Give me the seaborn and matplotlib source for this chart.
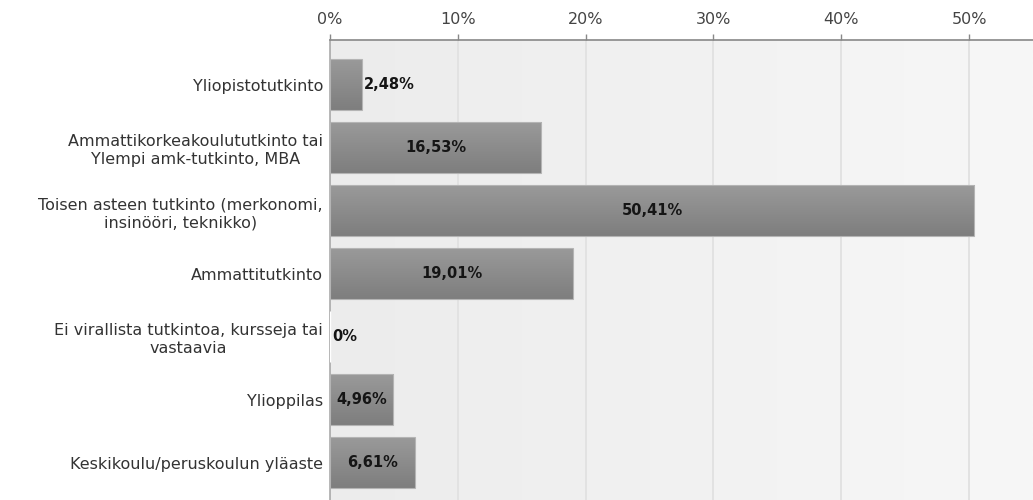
import numpy as np
import pandas as pd
import matplotlib
matplotlib.use("Agg")
import matplotlib.pyplot as plt
import seaborn as sns

categories = [
    "Yliopistotutkinto",
    "Ammattikorkeakoulututkinto tai\nYlempi amk-tutkinto, MBA",
    "Toisen asteen tutkinto (merkonomi,\ninsinööri, teknikko)",
    "Ammattitutkinto",
    "Ei virallista tutkintoa, kursseja tai\nvastaavia",
    "Ylioppilas",
    "Keskikoulu/peruskoulun yläaste",
]
values = [2.48, 16.53, 50.41, 19.01, 0.0, 4.96, 6.61]
value_labels = ["2,48%", "16,53%", "50,41%", "19,01%", "0%", "4,96%", "6,61%"]
x_ticks = [0, 10, 20, 30, 40, 50]

df = pd.DataFrame({"kategoria": categories, "osuus": values})

sns.set_theme(style="white")
plt.rcParams["font.family"] = ["DejaVu Sans"]

fig = plt.figure(figsize=(10.33, 5.0), dpi=100)
ax = fig.add_axes([0.3195, 0.0, 0.6805, 0.92])

sns.barplot(data=df, x="osuus", y="kategoria", orient="h", color="#8a8a8a",
            width=0.81, saturation=1, ax=ax, zorder=3)

XMAX = 55.0
ax.set_xlim(0, XMAX)
ax.set_ylim(6.59, -0.71)

# soft left-to-right shading of the plotting area
bg = np.linspace(0, 1, 256).reshape(1, -1)
bg_cmap = matplotlib.colors.LinearSegmentedColormap.from_list("bg", ["#ececec", "#f7f7f7"])
ax.imshow(bg, cmap=bg_cmap, aspect="auto", extent=(0, 1, 0, 1),
          transform=ax.transAxes, zorder=0, interpolation="bilinear")

# vertical gradient inside each bar, clipped to the bar shape
grad = np.linspace(0, 1, 64).reshape(-1, 1)
cmap = matplotlib.colors.LinearSegmentedColormap.from_list("bar", ["#9a9a9a", "#7e7e7e"])
for p in list(ax.patches):
    w = p.get_width()
    if w <= 0:
        continue
    x0, y0 = p.get_x(), p.get_y()
    h = p.get_height()
    im = ax.imshow(grad, cmap=cmap, aspect="auto", interpolation="bilinear",
                   extent=(x0, x0 + w, y0 + h, y0), zorder=3.5)
    im.set_clip_path(p)
    p.set_edgecolor("#b4b4b4")
    p.set_linewidth(0.8)
    p.set_zorder(4)
    p.set_facecolor("none")

ax.set_xlim(0, XMAX)
ax.set_ylim(6.59, -0.71)

# value labels: centred inside the bar when it fits, otherwise just right of it
for i, (v, lab) in enumerate(zip(values, value_labels)):
    if v >= 4:
        ax.text(v / 2, i, lab, ha="center", va="center", fontsize=10.5,
                color="#151515", fontweight="semibold", zorder=6)
    else:
        ax.text(v + 0.2, i, lab, ha="left", va="center", fontsize=10.5,
                color="#151515", fontweight="semibold", zorder=6)

ax.xaxis.tick_top()
ax.set_xticks(x_ticks)
ax.set_xticklabels([f"{t}%" for t in x_ticks])
ax.tick_params(axis="x", direction="out", length=4, width=1, color="#888888",
               labelsize=11.5, labelcolor="#444444", pad=5, top=True, bottom=False)
ax.tick_params(axis="y", length=0, labelsize=11.5, labelcolor="#333333", pad=5)
for lbl in ax.get_yticklabels():
    lbl.set_multialignment("center")
    lbl.set_linespacing(1.25)

ax.grid(axis="x", color="#e2e2e2", linewidth=1.4, zorder=1)
ax.set_axisbelow(True)
ax.set_xlabel("")
ax.set_ylabel("")

for side in ["right", "bottom"]:
    ax.spines[side].set_visible(False)
ax.spines["top"].set_color("#888888")
ax.spines["top"].set_linewidth(1.2)
ax.spines["left"].set_color("#aaaaaa")
ax.spines["left"].set_linewidth(1.2)

fig.savefig("out.png", dpi=100, facecolor="white")
